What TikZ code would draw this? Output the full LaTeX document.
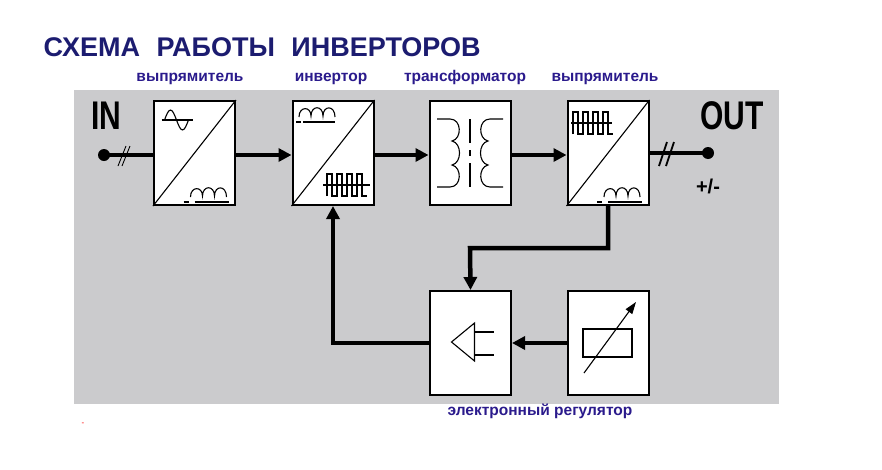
\documentclass[tikz,border=0pt]{standalone}
\usepackage{fontspec}
\setmainfont{Liberation Sans}
\usetikzlibrary{positioning,arrows.meta}
\definecolor{navy}{HTML}{1C1C70}
\definecolor{labelc}{HTML}{2A1A8C}
\definecolor{panel}{HTML}{CBCBCD}
\tikzset{
    block/.style = {
        draw,
        fill=white,
        shape=rectangle,
        minimum height=104pt,
        minimum width=81pt,
        line width=2pt
    },
    wire/.style = {
        line width=4.5pt,
        -{Triangle[length=13pt,width=13pt]}
    },
    plain/.style = {line width=4.5pt},
    sym/.style = {line width=1.1pt},
    caption/.style = {
        font=\bfseries\fontsize{15.5}{15.5}\selectfont,
        text=labelc,
        text height=1.6ex,
        text depth=0.5ex
    },
}
\newcommand{\humps}{%
    (-4,44) .. controls (-4,33) and (8,33) .. (8,43)
    .. controls (8,32) and (20,32) .. (20,43)
    .. controls (20,32) and (32,32) .. (32,44)}
\newcommand{\pulses}{%
    -- ++(0,-22) -- ++(5,0) -- ++(0,22) -- ++(5,0) -- ++(0,-22) -- ++(5,0)
    -- ++(0,22) -- ++(5,0) -- ++(0,-22) -- ++(5,0) -- ++(0,22) -- ++(5,0)
    -- ++(0,-22) -- ++(5,0) -- ++(0,22)}
\begin{document}
\begin{tikzpicture}[x=1pt,y=-1pt]
    \useasboundingbox (0,0) rectangle (882,469);
    \fill[panel] (74,90) rectangle (779,404);

    \node[font=\bfseries\fontsize{27}{27}\selectfont, text=navy, anchor=west] (title) at (40,47) {СХЕМА\,\, РАБОТЫ\,\, ИНВЕРТОРОВ};

    \node[block] (rect1) at (194.5,153) {};
    \node[block] (inv) at (333,153) {};
    \node[block] (trans) at (470,153) {};
    \node[block] (rect2) at (608,153) {};
    \node[block] (amp) at (470.5,343) {};
    \node[block] (pot) at (608,343) {};

    \node[caption] (l1) at (190,79) {выпрямитель};
    \node[caption] (l2) at (331,79) {инвертор};
    \node[caption] (l3) at (465,79) {трансформатор};
    \node[caption] (l4) at (605,79) {выпрямитель};
    \node[caption] (l5) at (540,413) {электронный регулятор};
    \node[font=\bfseries\fontsize{40}{40}\selectfont, xscale=0.75] (in) at (106,116) {IN};
    \node[font=\bfseries\fontsize{40}{40}\selectfont, xscale=0.75] (out) at (732,116) {OUT};
    \node[font=\bfseries\fontsize{20}{20}\selectfont] (pm) at (708,186) {+/-};
    \node[text=red, font=\fontsize{8}{8}\selectfont] (mark) at (83,424) {-};

    \fill (104,155) circle (6pt) coordinate (pin);
    \fill (708,153) circle (6pt) coordinate (pout);

    % main path
    \draw[plain] (pin) -- (rect1.west |- pin);
    \draw[line width=0.9pt] (118,166) -- (126,146) (122,166) -- (130,146);
    \draw[wire] (rect1.east |- pin) -- (inv.west |- pin);
    \draw[wire] (inv.east |- pin) -- (trans.west |- pin);
    \draw[wire] (trans.east |- pin) -- (rect2.west |- pin);
    \draw[plain] (rect2.east |- pout) -- (pout);
    \draw[line width=1.8pt] (659,166) -- (667,142) (666,166) -- (674,142);

    % feedback
    \draw[wire] (rect2.south) |- (470,248) -- (amp.north);
    \draw[wire] (pot.west) -- (amp.east);
    \draw[wire] (amp.west) -| (inv.south);

    % block symbols
    \foreach \b in {rect1,inv,rect2}
        \draw[sym] (\b.south west) -- (\b.north east);
    \begin{scope}[shift={(rect1.center)}, sym]
        \draw (-33,-33) -- (-2,-33);
        \draw (-30,-33) sin (-24,-43) cos (-18,-33) sin (-12,-23) cos (-6,-33);
        \draw \humps; \draw (0,49) -- (34,49);
        \draw (-11,49) -- (-6,49);
    \end{scope}
    \begin{scope}[shift={(inv.center)}, sym]
        \draw[shift={(-30,-80)}] \humps; \draw (-30,-31) -- (2,-31);
        \draw (-37,-31) -- (-32,-31);
        \draw (-10,32) -- (37,32);
        \draw (-6,43) \pulses -- ++(5,0);
    \end{scope}
    \begin{scope}[shift={(rect2.center)}, sym]
        \draw (-37,-30) -- (4,-30);
        \draw (-35,-19) \pulses -- ++(5,0);
        \draw \humps; \draw (0,49) -- (34,49);
        \draw (-11,49) -- (-6,49);
    \end{scope}
    \begin{scope}[shift={(trans.center)}, sym]
        \draw (0,-34) -- (0,-10) (0,10) -- (0,34) (0,-3) -- (0,3);
        \draw (-33,-34) -- (-20,-34)
            .. controls (-8,-34) and (-8,-14) .. (-18,-12)
            .. controls (-8,-10) and (-8,10) .. (-18,12)
            .. controls (-8,14) and (-8,34) .. (-20,34) -- (-33,34);
        \draw (33,-34) -- (20,-34)
            .. controls (8,-34) and (8,-14) .. (18,-12)
            .. controls (8,-10) and (8,10) .. (18,12)
            .. controls (8,14) and (8,34) .. (20,34) -- (33,34);
    \end{scope}
    \begin{scope}[shift={(amp.center)}, sym]
        \draw (-19,-1) -- (4,-20) -- (4,18) -- cycle;
        \draw (4,-11) -- (23,-11) (4,12) -- (23,12);
    \end{scope}
    \begin{scope}[shift={(pot.center)}, sym]
        \draw (-25,-14) rectangle (24,14);
        \draw[-{Triangle[length=12pt,width=8pt]}] (-24,30) -- (28,-41);
    \end{scope}
\end{tikzpicture}
\end{document}
